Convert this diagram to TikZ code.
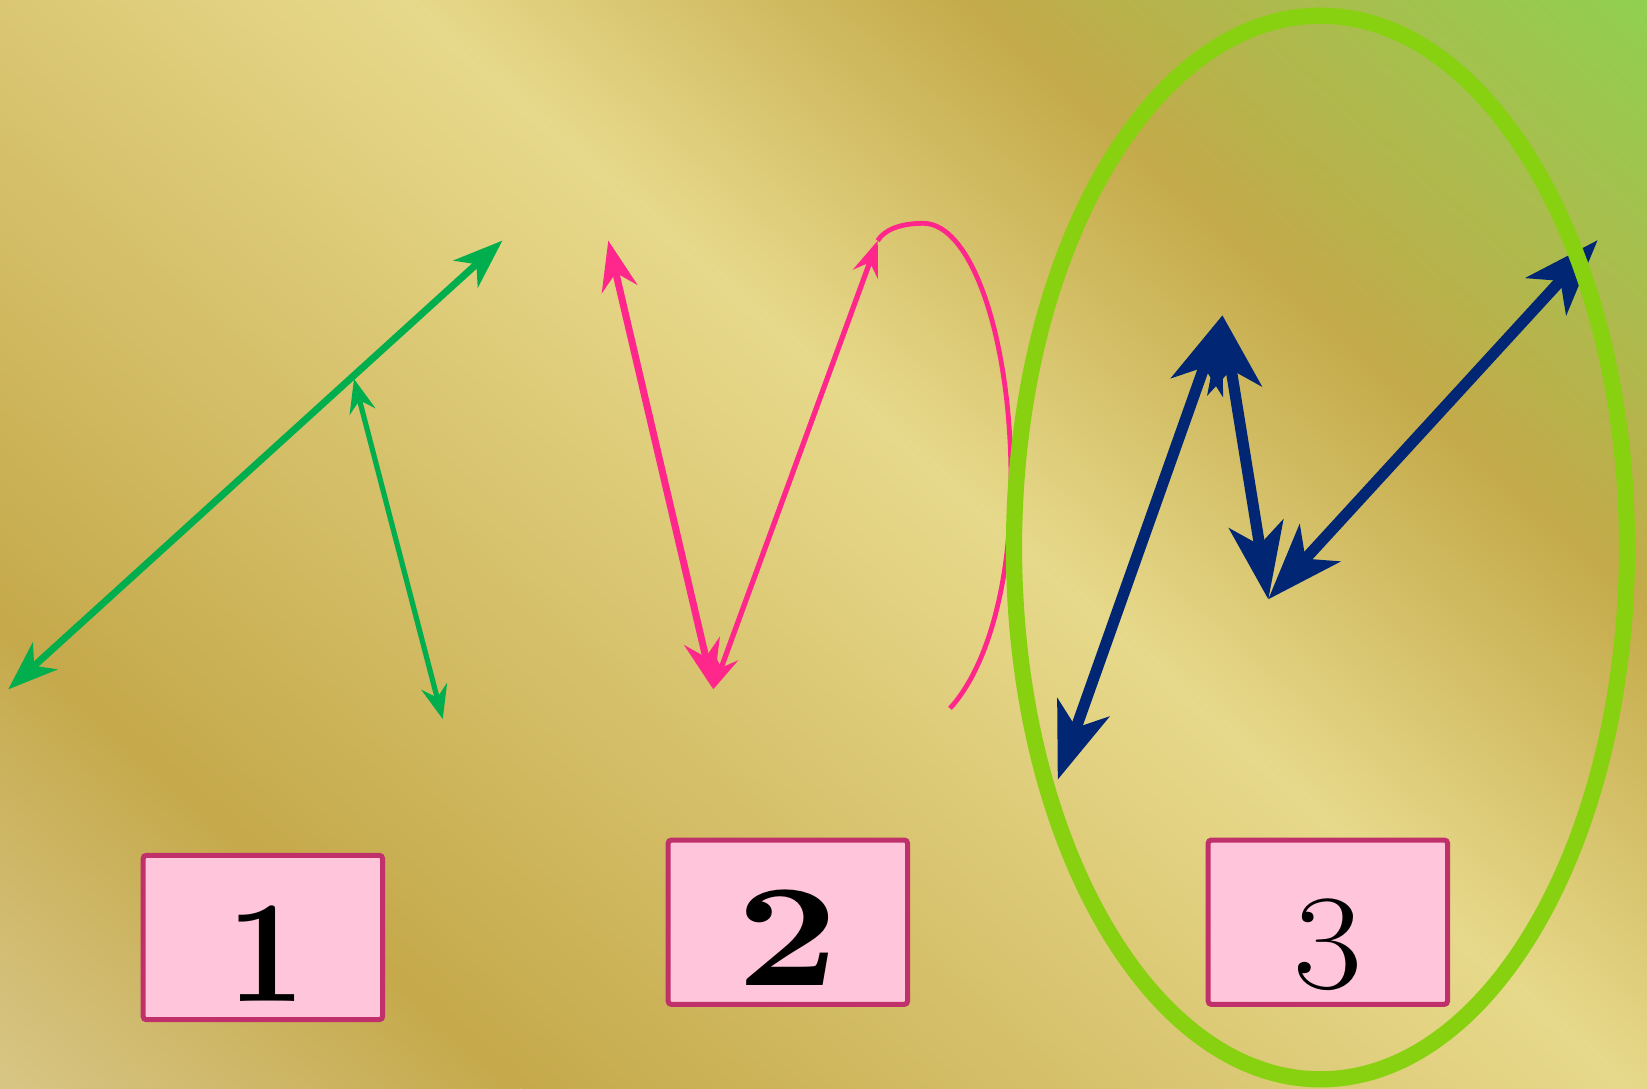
\documentclass[tikz,border=0pt]{standalone}
\usepackage{fontspec}
\newfontfamily\numfont{lmroman10-regular.otf}[BoldFont=lmroman10-bold.otf]
\usetikzlibrary{arrows.meta}
\definecolor{bgbl}{HTML}{D8C686}
\definecolor{bgdark}{HTML}{C5A94B}
\definecolor{bglight}{HTML}{E7D98B}
\definecolor{bgdarkb}{HTML}{C4AA4A}
\definecolor{bggreen}{HTML}{8FD050}
\definecolor{arrgreen}{HTML}{00AE4D}
\definecolor{arrpink}{HTML}{FF268C}
\definecolor{arrnavy}{HTML}{002674}
\definecolor{ringgreen}{HTML}{87D111}
\definecolor{boxfill}{HTML}{FFC5DB}
\definecolor{boxline}{HTML}{C0306A}
\tikzset{
  greenbig/.style={draw=arrgreen, line width=3.5pt,
    arrows={Stealth[length=25pt,width=18.5pt,inset=7.5pt,line width=0pt]-Stealth[length=25pt,width=18.5pt,inset=7.5pt,line width=0pt]}},
  greensmall/.style={draw=arrgreen, line width=2.6pt,
    arrows={Stealth[length=17pt,width=13.5pt,inset=6pt,line width=0pt]-Stealth[length=17pt,width=13.5pt,inset=6pt,line width=0pt]}},
  pinkthick/.style={draw=arrpink, line width=3.5pt,
    arrows={Stealth[length=25pt,width=18.5pt,inset=8.5pt,line width=0pt]-Stealth[length=25pt,width=18.5pt,inset=8.5pt,line width=0pt]}},
  pinkthin/.style={draw=arrpink, line width=2.6pt,
    arrows={Stealth[length=18pt,width=13.5pt,inset=6.5pt,line width=0pt]-Stealth[length=18pt,width=13.5pt,inset=6.5pt,line width=0pt]}},
  pinkcurve/.style={draw=arrpink, line width=2.4pt},
  navyarrow/.style={draw=arrnavy, line width=5.6pt,
    arrows={Stealth[length=38.5pt,width=28pt,inset=11pt,line width=0pt]-Stealth[length=38.5pt,width=28pt,inset=11pt,line width=0pt]}},
  ring/.style={draw=ringgreen, line width=8.1pt},
  numbox/.style={draw=boxline, fill=boxfill, line width=2.5pt, rounded corners=1.5pt,
    inner sep=0pt, minimum width=119.65pt, text height=72.8pt, text depth=9.3pt,
    font=\fontsize{73}{88}\selectfont, anchor=base}
}
\begin{document}
\begin{tikzpicture}[x=0.5pt,y=-0.5pt]
\useasboundingbox (0,0) rectangle (1647,1088);
% background gradient
\begin{scope}
  \clip (0,0) rectangle (1647,1088);
  \fill[bglight!50!bgdark] (0,0) rectangle (1647,1088);
  \begin{scope}[transform canvas={rotate=48.33}]
    \shade[left color=bgbl, right color=bgdark] (-815,-2600) rectangle (-466.9,2600);
    \shade[left color=bgdark, right color=bglight] (-466.9,-2600) rectangle (271.9,2600);
    \shade[left color=bglight, right color=bgdarkb] (271.9,-2600) rectangle (644.7,2600);
    \shade[left color=bgdarkb, right color=bggreen] (644.7,-2600) rectangle (1100,2600);
  \end{scope}
\end{scope}
% coordinates
\coordinate (g1) at (8.3,689.3);
\coordinate (g2) at (502.3,240.7);
\coordinate (g3) at (354,379);
\coordinate (g4) at (442.7,719);
\coordinate (p1) at (608.3,240.7);
\coordinate (p2) at (713.3,689.3);
\coordinate (p3) at (877.7,240.7);
\coordinate (pend) at (950,708.3);
\coordinate (n1) at (1057.8,779.4);
\coordinate (n2) at (1222.4,315.4);
\coordinate (n3) at (1268.3,599.2);
\coordinate (n4) at (1597.5,240.3);
% green arrows
\draw[greenbig] (g1) -- (g2);
\draw[greensmall] (g3) -- (g4);
% pink arrows and curve
\draw[pinkthick] (p1) -- (p2);
\draw[pinkthin] (p2) -- (p3);
\draw[pinkcurve] (p3) .. controls (884,230) and (900,223.3) .. (923.3,223.3)
  .. controls (971.7,223.3) and (1011,338.2) .. (1011,480)
  .. controls (1011,590) and (985,670) .. (pend);
% navy arrows
\draw[navyarrow] (n1) -- (n2);
\draw[navyarrow] (n2) -- (n3);
\draw[navyarrow] (n3) -- (n4);
% highlight ring
\draw[ring] (1320.5,547.5) ellipse [x radius=153.25pt, y radius=265.9pt];
% number boxes
\node[numbox] (b1) at (262.85,1001) {\hspace*{4pt}\numfont\scalebox{0.93}[1]{\bfseries 1}};
\node[numbox] (b2) at (787.85,985.7) {\numfont\scalebox{1.22}[1]{\bfseries 2}};
\node[numbox] (b3) at (1327.85,985.7) {\raisebox{-1.5pt}{\scalebox{1.03}[0.93]{3}}};
\end{tikzpicture}
\end{document}
